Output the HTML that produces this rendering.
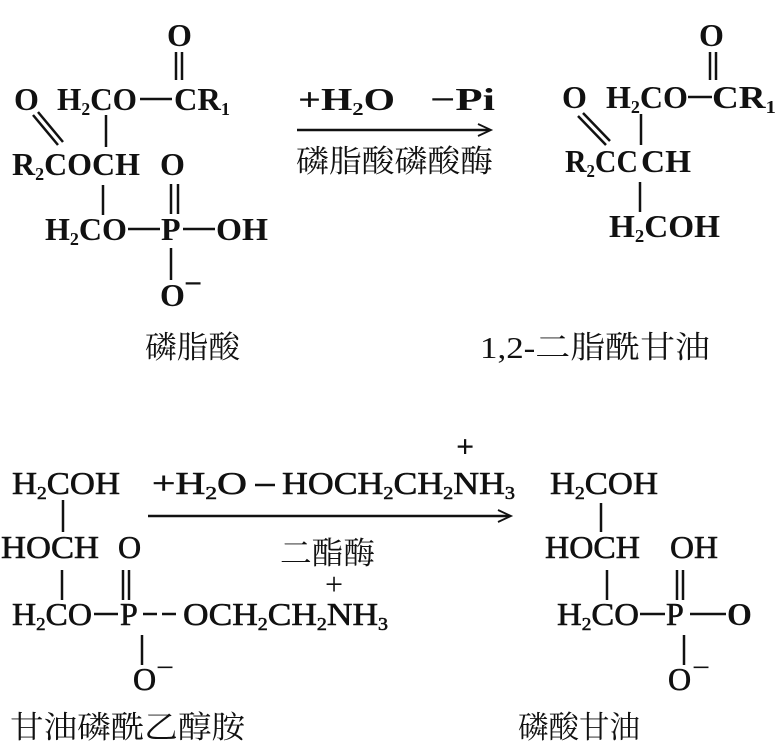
<!DOCTYPE html>
<html><head><meta charset="utf-8"><style>
html,body{margin:0;padding:0;background:#fff;width:777px;height:747px;overflow:hidden}
svg{display:block}
text{font-family:"Liberation Serif","Noto Serif CJK SC",serif;font-size:32px;fill:#111}
.b{font-weight:bold}
.r{stroke:#111;stroke-width:0.6}
.cn{font-family:"Liberation Serif","Noto Serif CJK SC","Noto Sans CJK SC",serif;font-size:31px}
line{stroke:#111;stroke-width:2.5}
</style></head><body>
<svg width="777" height="747" viewBox="0 0 777 747">
<!-- top left molecule -->
<text class="b" x="167" y="46">O</text>
<line x1="176" y1="52" x2="176" y2="80"/><line x1="182" y1="52" x2="182" y2="80"/>
<text class="b" x="14" y="110">O</text>
<text class="b" x="57" y="110" textLength="80" lengthAdjust="spacingAndGlyphs">H<tspan font-size="18" dy="5">2</tspan><tspan dy="-5">CO</tspan></text>
<line x1="140" y1="99" x2="172" y2="99"/>
<text class="b" x="174" y="110" textLength="56" lengthAdjust="spacingAndGlyphs">CR<tspan font-size="18" dy="5">1</tspan></text>
<line x1="33" y1="115" x2="58" y2="145"/><line x1="38" y1="112" x2="63" y2="142"/>
<line x1="106" y1="115" x2="106" y2="147"/>
<text class="b" x="12" y="175" textLength="128" lengthAdjust="spacingAndGlyphs">R<tspan font-size="18" dy="5">2</tspan><tspan dy="-5">COCH</tspan></text>
<text class="b" x="160" y="175">O</text>
<line x1="103" y1="185" x2="103" y2="215"/>
<line x1="171" y1="184" x2="171" y2="214"/><line x1="178" y1="184" x2="178" y2="214"/>
<text class="b" x="45" y="240" textLength="82" lengthAdjust="spacingAndGlyphs">H<tspan font-size="18" dy="5">2</tspan><tspan dy="-5">CO</tspan></text>
<line x1="128" y1="229" x2="160" y2="229"/>
<text class="b" x="161" y="240">P</text>
<line x1="183" y1="229" x2="215" y2="229"/>
<text class="b" x="216" y="240" textLength="52" lengthAdjust="spacingAndGlyphs">OH</text>
<line x1="171" y1="248" x2="171" y2="280"/>
<text class="b" x="160" y="306">O</text><text class="b" x="184" y="294" font-size="18">−</text>
<text class="cn" x="145" y="358" textLength="95" lengthAdjust="spacingAndGlyphs">磷脂酸</text>

<!-- arrow 1 -->
<text class="b" x="298" y="110" textLength="97" lengthAdjust="spacingAndGlyphs">+H<tspan font-size="18" dy="5">2</tspan><tspan dy="-5">O</tspan></text>
<text class="b" x="430" y="110" textLength="65" lengthAdjust="spacingAndGlyphs">−Pi</text>
<line x1="297" y1="130" x2="490" y2="130" stroke-width="1.8"/>
<path d="M478 124 L491 130 L478 136" fill="none" stroke="#111" stroke-width="1.8"/>
<text class="cn" x="296" y="172" textLength="197" lengthAdjust="spacingAndGlyphs">磷脂酸磷酸酶</text>

<!-- top right -->
<text class="b" x="699" y="46">O</text>
<line x1="710" y1="52" x2="710" y2="80"/><line x1="716" y1="52" x2="716" y2="80"/>
<text class="b" x="562" y="108">O</text>
<text class="b" x="606" y="108" textLength="82" lengthAdjust="spacingAndGlyphs">H<tspan font-size="18" dy="5">2</tspan><tspan dy="-5">CO</tspan></text>
<line x1="688" y1="97" x2="712" y2="97"/>
<text class="b" x="712" y="108" textLength="64" lengthAdjust="spacingAndGlyphs">CR<tspan font-size="18" dy="5">1</tspan></text>
<line x1="578" y1="116" x2="606" y2="145" stroke-width="4"/><line x1="583" y1="113" x2="610" y2="141"/>
<line x1="641" y1="114" x2="641" y2="145"/>
<text class="b" x="565" y="172" textLength="73" lengthAdjust="spacingAndGlyphs">R<tspan font-size="18" dy="5">2</tspan><tspan dy="-5">CC</tspan></text>
<text class="b" x="641" y="172" textLength="50" lengthAdjust="spacingAndGlyphs">CH</text>
<line x1="640" y1="182" x2="640" y2="212"/>
<text class="b" x="609" y="237" textLength="111" lengthAdjust="spacingAndGlyphs">H<tspan font-size="18" dy="5">2</tspan><tspan dy="-5">COH</tspan></text>
<text class="cn" x="480" y="358" textLength="230" lengthAdjust="spacingAndGlyphs">1,2-二脂酰甘油</text>

<!-- bottom left -->
<text x="456" y="457" class="b" font-size="30">+</text>
<text class="r" x="12" y="494" textLength="108" lengthAdjust="spacingAndGlyphs">H<tspan font-size="18" dy="5">2</tspan><tspan dy="-5">COH</tspan></text>
<text class="r" x="152" y="494" textLength="95" lengthAdjust="spacingAndGlyphs">+H<tspan font-size="18" dy="5">2</tspan><tspan dy="-5">O</tspan></text>
<line x1="255" y1="485" x2="275" y2="485"/>
<text class="r" x="282" y="494" textLength="233" lengthAdjust="spacingAndGlyphs">HOCH<tspan font-size="18" dy="5">2</tspan><tspan dy="-5">CH</tspan><tspan font-size="18" dy="5">2</tspan><tspan dy="-5">NH</tspan><tspan font-size="18" dy="5">3</tspan></text>
<line x1="148" y1="516" x2="510" y2="516" stroke-width="1.8"/>
<path d="M498 510 L511 516 L498 522" fill="none" stroke="#111" stroke-width="1.8"/>
<line x1="63" y1="500" x2="63" y2="532"/>
<text class="r" x="1" y="558" textLength="98" lengthAdjust="spacingAndGlyphs">HOCH</text><text class="r" x="118" y="558">O</text>
<text class="cn" x="280" y="564" textLength="95" lengthAdjust="spacingAndGlyphs">二酯酶</text>
<text x="325" y="595" font-size="28">+</text>
<line x1="62" y1="570" x2="62" y2="600"/>
<line x1="123" y1="570" x2="123" y2="600"/><line x1="129" y1="570" x2="129" y2="600"/>
<text class="r" x="12" y="625" textLength="80" lengthAdjust="spacingAndGlyphs">H<tspan font-size="18" dy="5">2</tspan><tspan dy="-5">CO</tspan></text>
<line x1="94" y1="614" x2="118" y2="614"/>
<text class="r" x="120" y="625">P</text>
<line x1="143" y1="614" x2="180" y2="614" stroke-dasharray="14 5"/>
<text class="r" x="183" y="625" textLength="205" lengthAdjust="spacingAndGlyphs">OCH<tspan font-size="18" dy="5">2</tspan><tspan dy="-5">CH</tspan><tspan font-size="18" dy="5">2</tspan><tspan dy="-5">NH</tspan><tspan font-size="18" dy="5">3</tspan></text>
<line x1="142" y1="635" x2="142" y2="665"/>
<text class="r" x="133" y="690">O</text><text x="156" y="678" font-size="18">−</text>
<text class="cn" x="10" y="738" textLength="235" lengthAdjust="spacingAndGlyphs">甘油磷酰乙醇胺</text>

<!-- bottom right -->
<text class="r" x="550" y="494" textLength="108" lengthAdjust="spacingAndGlyphs">H<tspan font-size="18" dy="5">2</tspan><tspan dy="-5">COH</tspan></text>
<line x1="601" y1="503" x2="601" y2="532"/>
<text class="r" x="545" y="558" textLength="95" lengthAdjust="spacingAndGlyphs">HOCH</text><text class="r" x="670" y="558" textLength="48" lengthAdjust="spacingAndGlyphs">OH</text>
<line x1="607" y1="570" x2="607" y2="600"/>
<line x1="677" y1="570" x2="677" y2="600"/><line x1="683" y1="570" x2="683" y2="600"/>
<text class="r" x="557" y="625" textLength="82" lengthAdjust="spacingAndGlyphs">H<tspan font-size="18" dy="5">2</tspan><tspan dy="-5">CO</tspan></text>
<line x1="640" y1="614" x2="665" y2="614"/>
<text class="r" x="666" y="625">P</text>
<line x1="690" y1="614" x2="726" y2="614"/>
<text class="b" x="727" y="625">O</text>
<line x1="684" y1="635" x2="684" y2="665"/>
<text class="r" x="668" y="690">O</text><text x="692" y="678" font-size="18">−</text>
<text class="cn" x="518" y="738" textLength="122" lengthAdjust="spacingAndGlyphs">磷酸甘油</text>
</svg>
</body></html>
